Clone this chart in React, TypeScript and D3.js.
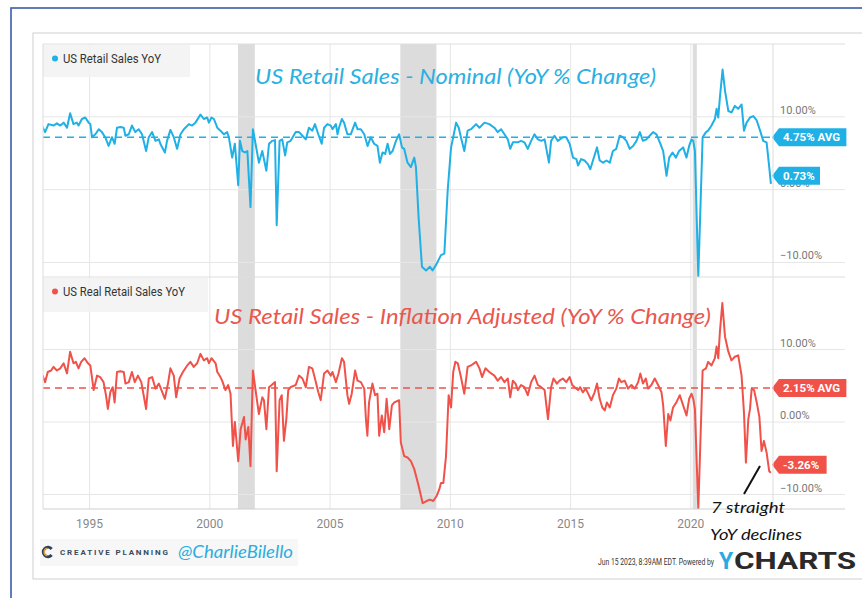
import React from "react";
import * as d3 from "d3";

// ---------- data (year fraction, YoY %) ----------
const nominalSeries: [number, number][] = [
  [1993.01, 8.8],[1993.15, 7.9],[1993.29, 9.0],[1993.5, 8.8],[1993.64, 9.1],[1993.78, 8.8],[1993.92, 9.2],[1994.06, 8.5],[1994.19, 10.5],[1994.33, 9.0],[1994.47, 9.2],[1994.54, 8.8],[1994.68, 9.7],[1994.82, 9.9],[1994.96, 9.2],[1995.03, 9.0],[1995.1, 7.2],[1995.24, 7.6],[1995.38, 8.3],[1995.51, 7.9],[1995.65, 7.2],[1995.79, 6.0],[1995.93, 7.2],[1996.04, 6.3],[1996.14, 8.5],[1996.28, 8.6],[1996.42, 8.5],[1996.49, 7.4],[1996.63, 7.6],[1996.76, 8.8],[1996.9, 7.9],[1997.04, 8.3],[1997.18, 7.6],[1997.35, 5.3],[1997.46, 7.2],[1997.6, 7.9],[1997.74, 6.7],[1997.88, 6.9],[1997.94, 6.3],[1998.13, 5.1],[1998.22, 6.7],[1998.36, 8.2],[1998.5, 7.2],[1998.64, 5.6],[1998.78, 7.6],[1998.92, 8.3],[1999.13, 9.0],[1999.26, 8.8],[1999.4, 9.2],[1999.61, 10.3],[1999.75, 9.7],[1999.89, 9.9],[1999.96, 9.2],[2000.07, 9.9],[2000.17, 9.7],[2000.31, 8.5],[2000.44, 8.1],[2000.58, 7.6],[2000.72, 7.9],[2000.79, 7.2],[2000.93, 4.4],[2001.04, 6.3],[2001.18, 0.6],[2001.25, 6.7],[2001.35, 5.3],[2001.46, 5.1],[2001.56, 5.3],[2001.69, -2.4],[2001.79, 8.3],[2001.9, 6.3],[2002.04, 3.7],[2002.18, 5.3],[2002.35, 2.6],[2002.46, 6.3],[2002.6, 6.7],[2002.71, 6.8],[2002.78, -4.9],[2002.9, 6.7],[2003.01, 6.9],[2003.13, 4.7],[2003.22, 6.5],[2003.36, 6.7],[2003.57, 7.9],
  [2003.71, 7.9],[2003.85, 7.4],[2003.99, 6.9],[2004.12, 8.5],[2004.26, 8.1],[2004.37, 9.0],[2004.51, 7.6],[2004.65, 6.3],[2004.75, 8.5],[2004.89, 9.0],[2005.03, 8.8],[2005.1, 8.3],[2005.24, 9.0],[2005.31, 7.6],[2005.37, 8.5],[2005.49, 9.7],[2005.58, 9.2],[2005.72, 7.6],[2005.86, 7.6],[2006.04, 9.2],[2006.14, 8.3],[2006.28, 8.3],[2006.42, 7.6],[2006.56, 6.0],[2006.69, 7.2],[2006.83, 6.3],[2006.97, 6.0],[2007.07, 3.7],[2007.18, 5.1],[2007.29, 4.9],[2007.39, 6.3],[2007.49, 4.9],[2007.6, 5.3],[2007.74, 6.7],[2007.87, 7.6],[2007.99, 5.8],[2008.08, 5.6],[2008.22, 3.7],[2008.36, 3.1],[2008.5, 4.4],[2008.57, 3.1],[2008.68, -3.8],[2008.82, -10.6],[2008.99, -11.1],[2009.15, -10.6],[2009.26, -11.1],[2009.43, -10.2],[2009.61, -9.0],[2009.75, -8.8],[2009.89, -0.1],[2010.03, 5.8],[2010.12, 7.2],[2010.24, 9.2],[2010.35, 8.5],[2010.44, 7.2],[2010.58, 5.3],[2010.72, 8.1],[2010.86, 8.3],[2011.07, 9.0],[2011.21, 8.5],[2011.42, 9.2],[2011.62, 9.0],[2011.83, 8.5],[2011.97, 7.9],[2012.11, 8.3],[2012.25, 7.6],[2012.39, 6.9],[2012.49, 5.6],[2012.6, 6.5],[2012.8, 6.5],[2012.94, 6.7],[2013.08, 6.5],[2013.22, 5.6],[2013.36, 6.7],[2013.5, 7.6],[2013.64, 6.9],[2013.78, 6.7],[2013.92, 6.9],[2014.1, 3.7],[2014.19, 6.7],[2014.33, 7.4],[2014.47, 6.7],[2014.68, 7.2],[2014.82, 7.2],
  [2014.96, 6.3],[2015.1, 4.4],[2015.24, 4.2],[2015.31, 3.3],[2015.44, 4.2],[2015.58, 4.0],[2015.72, 3.5],[2015.82, 2.8],[2015.93, 4.0],[2016.1, 5.8],[2016.21, 4.0],[2016.35, 3.7],[2016.49, 4.0],[2016.63, 3.7],[2016.76, 5.3],[2016.9, 5.6],[2017.04, 7.4],[2017.18, 7.2],[2017.32, 6.7],[2017.46, 5.6],[2017.6, 6.0],[2017.74, 6.7],[2017.88, 7.9],[2018.01, 6.7],[2018.15, 6.9],[2018.29, 7.4],[2018.43, 7.9],[2018.57, 7.6],[2018.71, 6.5],[2018.85, 5.3],[2018.99, 1.9],[2019.1, 4.4],[2019.24, 5.1],[2019.38, 4.4],[2019.51, 5.3],[2019.68, 5.8],[2019.82, 4.4],[2019.93, 6.0],[2020.03, 6.9],[2020.1, 6.7],[2020.17, 5.3],[2020.31, -12.0],[2020.49, 7.2],[2020.63, 7.9],[2020.72, 8.1],[2020.86, 8.8],[2021.0, 9.7],[2021.07, 11.1],[2021.14, 9.9],[2021.21, 12.7],[2021.32, 16.5],[2021.42, 13.6],[2021.56, 10.8],[2021.69, 10.6],[2021.83, 11.5],[2021.97, 11.1],[2022.11, 11.7],[2022.21, 8.1],[2022.32, 9.2],[2022.46, 9.9],[2022.6, 10.1],[2022.74, 9.5],[2022.88, 8.1],[2023.01, 6.7],[2023.15, 6.5],[2023.26, 3.1],[2023.33, 0.8],
];

const realSeries: [number, number][] = [
  [1993.01, 6.7],[1993.15, 5.5],[1993.26, 6.9],[1993.4, 7.1],[1993.5, 7.6],[1993.64, 7.1],[1993.78, 7.4],[1993.92, 8.1],[1994.06, 6.7],[1994.19, 9.7],[1994.33, 8.1],[1994.43, 8.3],[1994.54, 7.4],[1994.65, 8.3],[1994.79, 8.8],[1994.93, 8.1],[1995.03, 7.8],[1995.17, 4.4],[1995.31, 6.4],[1995.44, 6.2],[1995.58, 5.5],[1995.68, 3.7],[1995.76, 1.8],[1995.86, 4.1],[1995.96, 4.8],[1996.04, 2.7],[1996.14, 6.9],[1996.28, 7.0],[1996.42, 6.9],[1996.49, 5.3],[1996.63, 5.5],[1996.76, 6.9],[1996.88, 5.5],[1997.01, 6.4],[1997.15, 5.5],[1997.35, 1.8],[1997.46, 6.0],[1997.6, 6.2],[1997.74, 4.6],[1997.88, 5.3],[1997.94, 4.8],[1998.13, 3.2],[1998.26, 5.3],[1998.36, 7.4],[1998.5, 6.4],[1998.6, 3.4],[1998.74, 6.0],[1998.88, 6.9],[1999.06, 7.8],[1999.19, 8.3],[1999.33, 7.6],[1999.47, 8.1],[1999.61, 9.4],[1999.75, 8.5],[1999.89, 8.8],[1999.96, 8.1],[2000.07, 8.8],[2000.24, 8.1],[2000.31, 6.9],[2000.44, 6.2],[2000.51, 5.7],[2000.65, 4.4],[2000.76, 5.1],[2000.86, 3.9],[2000.96, -3.3],[2001.04, 0.0],[2001.18, -5.4],[2001.28, -1.0],[2001.42, 0.7],[2001.49, -2.4],[2001.6, -0.7],[2001.69, -6.1],[2001.79, 7.1],[2001.93, 3.7],[2002.04, 1.1],[2002.18, 3.4],[2002.25, 3.0],[2002.35, -1.0],[2002.46, 4.8],[2002.57, 5.1],[2002.71, 5.5],[2002.78, -6.8],[2002.9, 3.0],[2002.99, 3.7],[2003.08, -2.6],[2003.18, 0.4],[2003.26, 4.4],[2003.36, 4.8],[2003.57, 5.1],
  [2003.71, 6.4],[2003.85, 6.0],[2003.99, 4.8],[2004.12, 7.6],[2004.26, 7.4],[2004.37, 6.0],[2004.51, 4.1],[2004.61, 3.0],[2004.75, 6.7],[2004.89, 7.1],[2005.03, 6.4],[2005.1, 6.9],[2005.24, 5.5],[2005.35, 6.7],[2005.49, 8.8],[2005.58, 8.3],[2005.72, 3.7],[2005.79, 2.5],[2005.9, 3.9],[2006.04, 7.1],[2006.14, 5.7],[2006.28, 5.5],[2006.42, 4.6],[2006.49, 0.4],[2006.55, -1.9],[2006.62, 2.7],[2006.76, 5.3],[2006.87, 3.7],[2006.97, 3.9],[2007.04, -1.9],[2007.15, 0.9],[2007.25, -1.4],[2007.35, 3.2],[2007.46, -1.0],[2007.57, 2.3],[2007.67, 2.7],[2007.87, 3.0],[2007.94, -2.8],[2008.08, -4.7],[2008.22, -4.9],[2008.36, -5.4],[2008.5, -6.5],[2008.68, -8.8],[2008.85, -11.2],[2009.01, -10.9],[2009.15, -10.7],[2009.29, -10.9],[2009.43, -10.2],[2009.54, -9.3],[2009.61, -8.4],[2009.71, -8.4],[2009.82, -4.7],[2009.93, 3.7],[2010.03, 2.0],[2010.12, 6.9],[2010.21, 8.3],[2010.31, 8.1],[2010.44, 6.2],[2010.58, 3.9],[2010.72, 7.6],[2010.86, 7.8],[2011.07, 8.3],[2011.21, 7.4],[2011.32, 6.2],[2011.46, 7.4],[2011.62, 6.9],[2011.83, 6.4],[2011.97, 5.7],[2012.11, 6.2],[2012.25, 5.5],[2012.39, 6.0],[2012.49, 3.4],[2012.6, 5.7],[2012.71, 5.3],[2012.81, 4.4],[2012.94, 5.1],[2013.08, 4.8],[2013.22, 3.7],[2013.36, 5.5],[2013.5, 6.4],[2013.64, 5.1],[2013.78, 4.8],[2013.92, 4.4],[2014.06, 0.4],[2014.19, 4.8],[2014.29, 6.0],[2014.43, 5.3],
  [2014.54, 5.7],[2014.68, 6.0],[2014.82, 5.5],[2014.96, 6.2],[2015.07, 5.1],[2015.17, 4.8],[2015.31, 4.4],[2015.4, 4.8],[2015.51, 4.1],[2015.63, 4.6],[2015.76, 3.7],[2015.86, 3.0],[2016.0, 4.1],[2016.1, 5.3],[2016.21, 3.2],[2016.32, 2.0],[2016.42, 1.6],[2016.51, 2.7],[2016.63, 2.0],[2016.76, 3.7],[2016.9, 4.6],[2017.01, 6.0],[2017.11, 5.5],[2017.25, 5.7],[2017.39, 4.6],[2017.53, 5.1],[2017.67, 4.6],[2017.81, 5.5],[2017.9, 6.7],[2018.01, 5.3],[2018.13, 6.0],[2018.22, 4.6],[2018.36, 5.1],[2018.5, 6.0],[2018.64, 5.1],[2018.78, 4.1],[2018.85, 2.3],[2018.96, -3.3],[2019.06, 1.1],[2019.15, 0.2],[2019.26, 2.0],[2019.4, 2.7],[2019.54, 3.7],[2019.68, 2.3],[2019.82, 0.9],[2019.93, 3.2],[2020.03, 3.9],[2020.1, 3.2],[2020.17, 1.8],[2020.31, -12.0],[2020.49, 7.1],[2020.63, 7.4],[2020.72, 8.3],[2020.86, 7.8],[2021.0, 8.8],[2021.07, 10.4],[2021.14, 8.8],[2021.21, 12.5],[2021.31, 16.4],[2021.42, 11.8],[2021.56, 9.7],[2021.69, 8.5],[2021.83, 9.0],[2021.97, 9.2],[2022.11, 6.4],[2022.21, 1.3],[2022.29, -5.6],[2022.39, 0.4],[2022.46, 1.8],[2022.53, 4.6],[2022.63, 4.4],[2022.74, 2.7],[2022.85, 0.7],[2022.94, -4.0],[2023.04, -2.6],[2023.15, -4.2],[2023.26, -6.8],[2023.33, -7.0],
];

const seriesNames = ["US Retail Sales YoY", "US Real Retail Sales YoY"];
const panelTitles = [
  "US Retail Sales - Nominal (YoY % Change)",
  "US Retail Sales - Inflation Adjusted (YoY % Change)",
];
const avgLevels = [7.2, 4.7];
const avgLabels = ["4.75% AVG", "2.15% AVG"];
const lastLabels = ["0.73%", "-3.26%"];
const yTicks = [10, 0, -10];
const xTicks = [1995, 2000, 2005, 2010, 2015, 2020];
const recessions: [number, number][] = [
  [2001.17, 2001.87],
  [2007.92, 2009.42],
  [2020.08, 2020.25],
];
const colors = ["#1fb0e6", "#f0524a"];
const titleColors = ["#2ab0e2", "#e9574e"];

// ---------- layout ----------
const W = 862;
const H = 598;
const plotL = 43;
const plotR = 773;
const gridR = 845;
const panels = [
  { top: 44, bottom: 277 },
  { top: 277, bottom: 509 },
];
const hand = "'Lato', 'Open Sans', sans-serif";
const ui = "Roboto, 'Liberation Sans', sans-serif";

export default function App() {
  const x = d3.scaleLinear().domain([1993.0, 2023.375]).range([41.5, 772]);
  const yScales = panels.map((p) =>
    d3.scaleLinear().domain([-12, 20]).range([p.bottom, p.top])
  );
  const data = [nominalSeries, realSeries];
  const fmt = (v: number) => d3.format(".2f")(v) + "%";

  const logoDark = d3.arc()({
    innerRadius: 3.2,
    outerRadius: 6.2,
    startAngle: 0.72 * Math.PI,
    endAngle: 2.28 * Math.PI,
  } as any);
  const logoGold = d3.arc()({
    innerRadius: 3.2,
    outerRadius: 4.6,
    startAngle: 1.05 * Math.PI,
    endAngle: 1.95 * Math.PI,
  } as any);

  return (
    <svg
      width={W}
      height={H}
      style={{ position: "absolute", left: 0, top: 0, background: "#fff" }}
    >
      <defs>
        {panels.map((p, i) => (
          <clipPath id={`clip${i}`} key={i}>
            <rect x={plotL} y={p.top} width={plotR - plotL} height={p.bottom - p.top} />
          </clipPath>
        ))}
      </defs>
      <rect x={0} y={0} width={W} height={H} fill="#fff" />
      {/* outer frame */}
      <rect x={11} y={8} width={W + 20} height={H + 20} fill="none" stroke="#3b5ca6" strokeWidth={1.6} />
      {/* card */}
      <rect x={33} y={33} width={W + 20} height={546} fill="#fff" stroke="#cfcfcf" strokeWidth={1} />

      {/* recession shading */}
      {recessions.map(([a, b], i) => (
        <rect
          key={i}
          x={x(a)}
          y={panels[0].top}
          width={x(b) - x(a)}
          height={panels[1].bottom - panels[0].top}
          fill="#dcdcdc"
        />
      ))}

      {/* vertical grid */}
      {xTicks.map((t) => (
        <line
          key={t}
          x1={x(t)}
          x2={x(t)}
          y1={panels[0].top}
          y2={panels[1].bottom}
          stroke="#e6e6e6"
          strokeWidth={1}
        />
      ))}

      {panels.map((p, i) => {
        const y = yScales[i];
        const line = d3
          .line<[number, number]>()
          .x((d) => x(d[0]))
          .y((d) => y(d[1]));
        const last = data[i][data[i].length - 1];
        const boxes = [
          { cy: y(avgLevels[i]), text: avgLabels[i] },
          { cy: y(last[1]) - 8, text: lastLabels[i] },
        ];
        return (
          <g key={i}>
            {/* horizontal grid */}
            {yTicks.map((t) => (
              <line key={t} x1={plotL} x2={gridR} y1={y(t)} y2={y(t)} stroke="#e6e6e6" />
            ))}
            <line x1={plotL} x2={gridR} y1={p.top} y2={p.top} stroke="#dedede" />
            {/* legend box */}
            <rect
              x={plotL}
              y={p.top + 1}
              width={i === 0 ? 147 : 165}
              height={i === 0 ? 32 : 34}
              fill="#f2f2f2"
              opacity={0.85}
            />
            <circle cx={55} cy={p.top + 14.5} r={3} fill={colors[i]} />
            <text
              x={63}
              y={p.top + 18.5}
              fontFamily={ui}
              fontSize={12}
              fill="#333"
              textLength={i === 0 ? 98 : 122}
              lengthAdjust="spacingAndGlyphs"
            >
              {seriesNames[i]}
            </text>
            {/* title */}
            <text
              x={i === 0 ? 255 : 214}
              y={i === 0 ? 84 : 324}
              fontFamily={hand}
              fontStyle="italic"
              fontSize={21}
              fill={titleColors[i]}
              textLength={i === 0 ? 401 : 497}
              lengthAdjust="spacingAndGlyphs"
            >
              {panelTitles[i]}
            </text>
            {/* avg line */}
            <line
              x1={plotL}
              x2={plotR}
              y1={y(avgLevels[i])}
              y2={y(avgLevels[i])}
              stroke={colors[i]}
              strokeWidth={1.6}
              strokeDasharray="7 5"
            />
            {/* series */}
            <path
              d={line(data[i]) || ""}
              fill="none"
              stroke={colors[i]}
              strokeWidth={2}
              strokeLinejoin="round"
              clipPath={`url(#clip${i})`}
            />
            {/* y tick labels */}
            {yTicks.map((t) => (
              <text key={t} x={780} y={y(t) - 3} fontFamily={ui} fontSize={11} fill="#777">
                {fmt(t)}
              </text>
            ))}
            {/* value boxes */}
            {boxes.map((b, k) => {
              const w = b.text.length * 6.6 + 8;
              const x0 = 772;
              const x1 = 779;
              const d = `M${x0},${b.cy} L${x1},${b.cy - 9} L${x1 + w},${b.cy - 9} L${x1 + w},${b.cy + 9} L${x1},${b.cy + 9} Z`;
              return (
                <g key={k}>
                  <path d={d} fill={colors[i]} />
                  <text
                    x={x1 + 4}
                    y={b.cy + 4}
                    fontFamily={ui}
                    fontWeight="bold"
                    fontSize={11.5}
                    fill="#fff"
                  >
                    {b.text}
                  </text>
                </g>
              );
            })}
          </g>
        );
      })}

      {/* plot frame lines */}
      <line x1={plotL} x2={plotL} y1={panels[0].top} y2={panels[1].bottom} stroke="#dcdcdc" />
      <line x1={plotR} x2={plotR} y1={panels[0].top} y2={panels[1].bottom} stroke="#dcdcdc" />
      <line x1={plotL} x2={gridR} y1={panels[1].bottom} y2={panels[1].bottom} stroke="#cfcfcf" />

      {/* x tick labels */}
      {xTicks.map((t) => (
        <text
          key={t}
          x={x(t)}
          y={528}
          textAnchor="middle"
          fontFamily={ui}
          fontSize={12}
          fill="#888"
        >
          {t}
        </text>
      ))}

      {/* annotation */}
      <line x1={760} y1={466} x2={744} y2={494} stroke="#111" strokeWidth={2} />
      <text x={711} y={513} fontFamily={hand} fontStyle="italic" fontSize={16} fill="#111" textLength={74} lengthAdjust="spacingAndGlyphs">
        7 straight
      </text>
      <text x={710} y={540} fontFamily={hand} fontStyle="italic" fontSize={16} fill="#111" textLength={92} lengthAdjust="spacingAndGlyphs">
        YoY declines
      </text>

      {/* footer left */}
      <rect x={40} y={539} width={258} height={27} fill="#f7f7f7" />
      <g transform="translate(48,552)">
        <path d={logoDark || ""} fill="#2d3e55" />
        <path d={logoGold || ""} fill="#e0a23a" />
      </g>
      <text x={60} y={555} fontFamily={ui} fontWeight="bold" fontSize={8} fill="#3a4a5e" textLength={108} lengthAdjust="spacing">
        CREATIVE PLANNING
      </text>
      <text x={178} y={558} fontFamily={hand} fontStyle="italic" fontSize={17} fill="#2aaee0" textLength={115} lengthAdjust="spacingAndGlyphs">
        @CharlieBilello
      </text>

      {/* footer right */}
      <text x={598} y={565} fontFamily={ui} fontSize={9} fill="#333" textLength={116} lengthAdjust="spacingAndGlyphs">
        Jun 15 2023, 8:39AM EDT.  Powered by
      </text>
      <text x={719} y={569} fontFamily={ui} fontWeight="bold" fontSize={23} fill="#29abe2">
        Y
      </text>
      <text x={734} y={569} fontFamily={ui} fontWeight="bold" fontSize={23} fill="#2a2a2a" textLength={122} lengthAdjust="spacingAndGlyphs">
        CHARTS
      </text>
    </svg>
  );
}
